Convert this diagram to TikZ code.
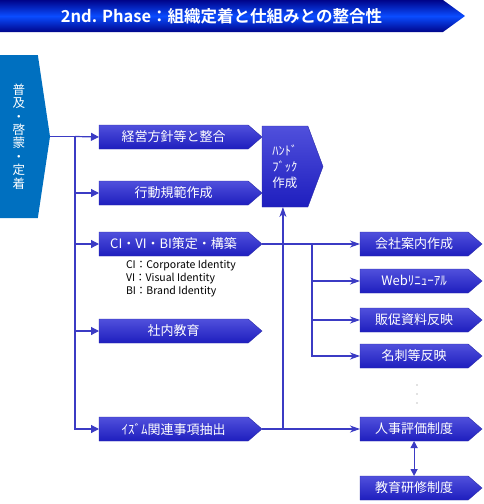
\documentclass[tikz,border=0pt]{standalone}
\usepackage{fontspec}
\setmainfont{Noto Sans CJK JP}[BoldFont={Noto Sans CJK JP Bold}]
\usepackage{xcolor}
\usepackage{tikz}
\usetikzlibrary{shapes}
\usetikzlibrary{arrows.meta}
\usetikzlibrary{calc}

\definecolor{boxtop}{HTML}{5050DC}
\definecolor{boxbot}{HTML}{1E1EBE}
\definecolor{boxedge}{HTML}{2A2AAA}
\definecolor{linkblue}{HTML}{3B3BC4}
\definecolor{bannerdark}{HTML}{00048A}
\definecolor{bannermid}{HTML}{0A4CFF}
\definecolor{startblue}{HTML}{0070C0}

\begin{document}
\begin{tikzpicture}[x=1pt, y=-1pt, outer sep=0pt, inner sep=0pt]
          \newcommand{\rowheight}{24pt}
          \newcommand{\leftwidth}{163pt}
          \newcommand{\rightwidth}{122pt}

          \tikzstyle{stepbox}=[
            signal,
            signal to=east,
            signal pointer angle=82,
            draw=boxedge,
            top color=boxtop,
            bottom color=boxbot,
            text=white,
            minimum height=\rowheight,
            anchor=west,
            font=\fontsize{13}{15}\selectfont
          ]
          \tikzstyle{line} = [draw=linkblue, line width=1.2pt]
          \tikzstyle{branch} = [line, -{Triangle[length=8pt,width=8pt]}]
          \tikzstyle{arrow} = [line, -{Stealth[length=10pt,width=7pt,inset=3pt]}]

          \useasboundingbox (0,0) rectangle (483,504);

          % title banner
          \node[signal, signal to=east, signal pointer angle=72, minimum width=465pt, minimum height=32pt,
                anchor=north west, top color=bannerdark, bottom color=bannerdark, middle color=bannermid,
                text=white, font=\bfseries\fontsize{16.5}{18}\selectfont] (title) at (0,0)
                {2nd. Phase：組織定着と仕組みとの整合性};

          % start
          \node[signal, signal to=east, signal pointer angle=163, minimum width=50pt, minimum height=163pt,
                anchor=north west, fill=startblue, text=white, align=center,
                font=\fontsize{12.5}{13.4}\selectfont] (start) at (0,55)
                {普\\及\\・\\啓\\蒙\\・\\定\\着};

          % left column
          \node[stepbox, minimum width=\leftwidth] (policy) at (99,137) {経営方針等と整合};
          \node[stepbox, minimum width=\leftwidth] (conduct) at (99,193) {行動規範作成};
          \node[stepbox, minimum width=\leftwidth] (cibi) at (99,244) {CI・VI・BI策定・構築};
          \node[stepbox, minimum width=\leftwidth] (edu) at (99,331) {社内教育};
          \node[stepbox, minimum width=\leftwidth] (ism) at (99,429) {ｲｽﾞﾑ関連事項抽出};

          \node[anchor=north west, align=left, font=\fontsize{10.5}{13}\selectfont] (cinote) at (126,260)
                {CI：Corporate Identity\\VI：Visual Identity\\BI：Brand Identity};

          % handbook
          \node[stepbox, signal pointer angle=139, minimum width=61pt, minimum height=81pt, anchor=north west,
                align=center, font=\fontsize{12.5}{16}\selectfont] (handbook) at ([yshift=11pt] policy.east)
                {ﾊﾝﾄﾞ\\ﾌﾞｯｸ\\作成};

          % right column
          \node[stepbox, minimum width=\rightwidth] (corp) at (360,244) {会社案内作成};
          \node[stepbox, minimum width=\rightwidth] (web) at (360,281) {Webﾘﾆｭｰｱﾙ};
          \node[stepbox, minimum width=\rightwidth] (promo) at (360,320) {販促資料反映};
          \node[stepbox, minimum width=\rightwidth] (card) at (360,356) {名刺等反映};
          \node[stepbox, minimum width=\rightwidth] (hr) at (360,429) {人事評価制度};
          \node[stepbox, minimum width=\rightwidth] (train) at (360,488) {教育研修制度};

          % dots between the columns
          \coordinate (dots) at (417,394);
          \fill[gray] ([yshift=9pt] dots) circle (0.7pt);
          \fill[gray] (dots) circle (0.7pt);
          \fill[gray] ([yshift=-9pt] dots) circle (0.7pt);

          % connectors
          \draw[line] (start.east) -- ++(25,0) coordinate (trunk);
          \draw[branch] (trunk) -- (policy.west);
          \draw[branch] (trunk |- conduct.west) -- (conduct.west);
          \draw[branch] (trunk |- cibi.west) -- (cibi.west);
          \draw[branch] (trunk |- edu.west) -- (edu.west);
          \draw[branch] (trunk) |- (ism.west);

          \draw[arrow] (cibi.east) -- (corp.west);
          \draw[line] (cibi.east) -- ++(50,0) coordinate (fork);
          \draw[arrow] (fork |- web.west) -- (web.west);
          \draw[arrow] (fork |- promo.west) -- (promo.west);
          \draw[arrow] (fork) |- (card.west);

          \draw[arrow] (ism.east) -- (hr.west);
          \draw[arrow] (ism.east) -| ([xshift=-2pt] handbook.south);
          \draw[line, {Triangle[length=7pt,width=7pt]}-{Triangle[length=7pt,width=7pt]}] (hr.south) -- (train.north);

        \end{tikzpicture}
\end{document}
